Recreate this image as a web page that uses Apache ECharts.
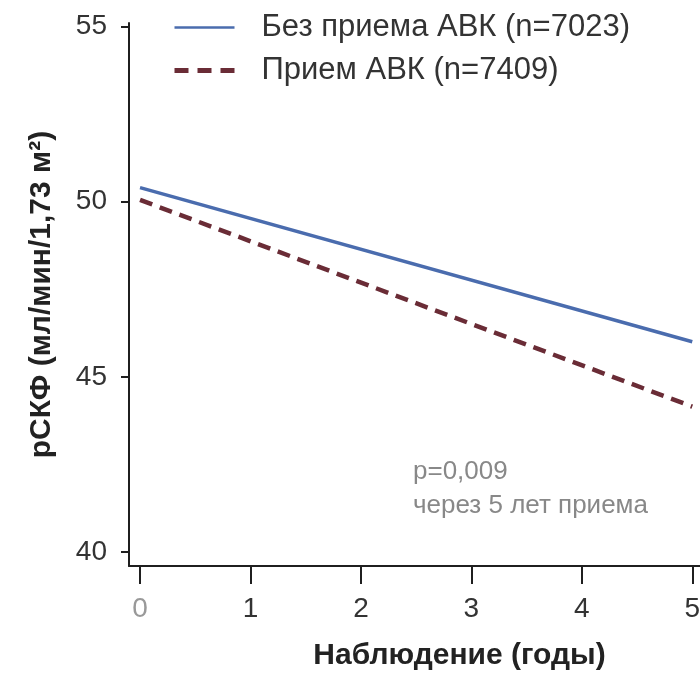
<!DOCTYPE html>
<html>
<head>
<meta charset="utf-8">
<script src="https://cdn.jsdelivr.net/npm/echarts@6/dist/echarts.min.js"></script>
<style>
  html, body { margin: 0; padding: 0; background: #fff; }
  #chart { width: 700px; height: 673px; }
</style>
</head>
<body>
<div id="chart"></div>
<script>
// данные
const years = [0, 5];
const noAvk = [50.4, 46.0];   // Без приема АВК
const withAvk = [50.05, 44.15]; // Прием АВК
const seriesNames = ['Без приема АВК (n=7023)', 'Прием АВК (n=7409)'];
const xTicks = [0, 1, 2, 3, 4, 5];
const yTicks = [40, 45, 50, 55];

const font = 'Liberation Sans, Arial, sans-serif';
const axisColor = '#1f1f1f';
const blue = '#4a6cae';
const red = '#6a2c36';

const chart = echarts.init(document.getElementById('chart'));

let option = {
  backgroundColor: '#fff',
  animation: false,
  textStyle: { fontFamily: font },
  grid: { left: 129, right: 0, top: 23, bottom: 107, containLabel: false, outerBoundsMode: 'none' },
  legend: {
    orient: 'vertical',
    left: 172,
    top: 12,
    padding: 0,
    itemWidth: 60,
    itemHeight: 20,
    itemGap: 12,
    itemStyle: { opacity: 0 },
    textStyle: { fontSize: 31, lineHeight: 31, color: '#333', fontFamily: font, padding: [0, 0, 0, 22] },
    data: [
      { name: seriesNames[0], lineStyle: { color: blue, width: 2.5 } },
      { name: seriesNames[1], lineStyle: { color: red, width: 5, type: [14, 9] } }
    ]
  },
  xAxis: {
    type: 'value',
    min: -0.1,
    max: 5.07,
    name: 'Наблюдение (годы)',
    nameLocation: 'middle',
    nameGap: 75,
    nameTextStyle: { fontSize: 30, fontWeight: 'bold', color: '#222', padding: [0, 0, 0, 90] },
    splitLine: { show: false },
    axisLine: { show: true, onZero: false, lineStyle: { color: axisColor, width: 2 } },
    axisTick: { show: true, length: 18, customValues: xTicks, lineStyle: { color: axisColor, width: 2 } },
    axisLabel: {
      margin: 29,
      fontSize: 28,
      color: '#333',
      customValues: xTicks,
      formatter: function (v) {
        return v === 0 ? '{light|0}' : v;
      },
      rich: { light: { fontSize: 28, color: '#999' } }
    }
  },
  yAxis: {
    type: 'value',
    min: 39.6,
    max: 55.1,
    name: 'рСКФ (мл/мин/1,73 м²)',
    nameLocation: 'middle',
    nameGap: 72,
    nameTextStyle: { fontSize: 30, fontWeight: 'bold', color: '#222' },
    splitLine: { show: false },
    axisLine: { show: true, onZero: false, lineStyle: { color: axisColor, width: 2 } },
    axisTick: { show: true, length: 8, customValues: yTicks, lineStyle: { color: axisColor, width: 2 } },
    axisLabel: { margin: 22, fontSize: 28, color: '#333', customValues: yTicks }
  },
  graphic: [
    {
      type: 'text',
      left: 413,
      top: 455,
      style: {
        text: 'p=0,009\nчерез 5 лет приема',
        fontSize: 26,
        lineHeight: 34,
        fill: '#888',
        fontFamily: font
      }
    }
  ],
  series: [
    {
      name: seriesNames[0],
      type: 'line',
      symbol: 'none',
      data: years.map((x, i) => [x, noAvk[i]]),
      lineStyle: { color: blue, width: 3.5 },
      itemStyle: { color: blue }
    },
    {
      name: seriesNames[1],
      type: 'line',
      symbol: 'none',
      data: years.map((x, i) => [x, withAvk[i]]),
      lineStyle: { color: red, width: 4.5, type: [13, 8] },
      itemStyle: { color: red }
    }
  ]
};

chart.setOption(option);
window.addEventListener('resize', chart.resize);
</script>
</body>
</html>
